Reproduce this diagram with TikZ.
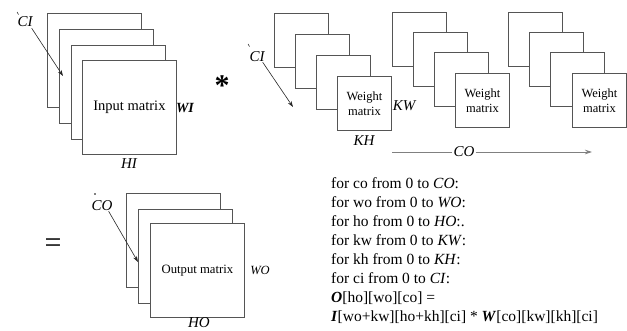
\documentclass[tikz,border=0pt]{standalone}
\usepackage{fontspec}
\setmainfont{Liberation Serif}
\usetikzlibrary{arrows.meta}
\definecolor{edge}{RGB}{85,85,85}
\begin{document}
\begin{tikzpicture}[x=1pt,y=-1pt,
  big/.style={draw=edge, fill=white, line width=0.9pt, minimum width=94pt, minimum height=94pt, inner sep=0pt, anchor=north west},
  small/.style={draw=edge, fill=white, line width=0.9pt, minimum width=54pt, minimum height=54pt, inner sep=0pt, anchor=north west},
  lbl/.style={inner sep=0pt, font=\fontsize{15}{17}\selectfont},
  code/.style={anchor=base west, inner sep=0pt, font=\fontsize{15.5}{19}\selectfont},
  arr/.style={-{Stealth[length=6pt,width=4pt]}, line width=0.6pt, draw=black!85}
]
\useasboundingbox (0,0) rectangle (627,330);
% input stack
\node[big] (i1) at (47,13) {};
\node[big] (i2) at (59,29) {};
\node[big] (i3) at (71,45) {};
\node[big, font=\fontsize{14.5}{17}\selectfont] (i4) at (82,60) {Input matrix};
\node[lbl, font=\fontsize{14}{17}\selectfont\bfseries\itshape] (wi) at (185,108) {WI};
\node[lbl, font=\fontsize{15}{17}\selectfont\itshape] (hi) at (129,164) {HI};
\node[lbl, font=\fontsize{15}{17}\selectfont\itshape] (ci1) at (25,22) {CI};
\draw[line width=0.5pt] (17,12) -- (18.5,14.5);
\coordinate (ci1t) at (63,76);
\draw[arr] (ci1.south east) ++(-1,1) -- (ci1t);
% star
\node[lbl, font=\fontsize{30}{30}\selectfont\bfseries] (star) at (222,86) {*};
% weight stack 1
\node[small] (a1) at (274,13) {};
\node[small] (a2) at (295,34) {};
\node[small] (a3) at (316,55) {};
\node[small, align=center, font=\fontsize{12.5}{15}\selectfont] (a4) at (337,76) {Weight\\matrix};
\node[lbl, font=\fontsize{15}{17}\selectfont\itshape] (kw) at (404,106) {KW};
\node[lbl, font=\fontsize{15}{17}\selectfont\itshape] (kh) at (364,141) {KH};
\node[lbl, font=\fontsize{15}{17}\selectfont\itshape] (ci2) at (257,57) {CI};
\draw[line width=0.5pt] (248,44) -- (249.5,46.5);
\coordinate (ci2t) at (293,107);
\draw[arr] (ci2.south east) ++(-2,0) -- (ci2t);
% weight stack 2
\node[small] (b1) at (392,12) {};
\node[small] (b2) at (413,32) {};
\node[small] (b3) at (434,52) {};
\node[small, align=center, font=\fontsize{12.5}{15}\selectfont] (b4) at (455,73) {Weight\\matrix};
% weight stack 3
\node[small] (c1) at (508,12) {};
\node[small] (c2) at (529,32) {};
\node[small] (c3) at (550,52) {};
\node[small, align=center, font=\fontsize{12.5}{15}\selectfont] (c4) at (572,73) {Weight\\matrix};
% CO axis
\node[lbl, font=\fontsize{15}{17}\selectfont\itshape, inner xsep=1pt] (coax) at (464,152) {CO};
\coordinate (cos) at (392,152);
\coordinate (coe) at (592,152);
\draw[draw=gray, line width=0.9pt] (cos) -- (coax.west);
\draw[draw=gray, line width=0.9pt, -{Stealth[length=7pt,width=4.5pt,fill=black]}] (coax.east) -- (coe);
% equals
\node[lbl, font=\fontsize{30}{30}\selectfont] (eq) at (53,246) {=};
% output stack
\node[big] (o1) at (126,193) {};
\node[big] (o2) at (138,209) {};
\node[big, font=\fontsize{12.7}{15}\selectfont] (o3) at (150,223) {Output matrix};
\node[lbl, font=\fontsize{12.5}{15}\selectfont\itshape] (wo) at (260,270) {WO};
\node[lbl, font=\fontsize{15}{17}\selectfont\itshape] (ho) at (199,323) {HO};
\node[lbl, font=\fontsize{15}{17}\selectfont\itshape] (co) at (102,206) {CO};
\fill (95,194) circle (0.8pt);
\coordinate (cot) at (138,262);
\draw[arr] (co.south east) ++(-4,0) -- (cot);
% code
\node[code] (l1) at (331,188) {for co from 0 to \textit{CO}:};
\node[code] (l2) at (331,207) {for wo from 0 to \textit{WO}:};
\node[code] (l3) at (331,226) {for ho from 0 to \textit{HO}:.};
\node[code] (l4) at (331,245) {for kw from 0 to \textit{KW}:};
\node[code] (l5) at (331,264) {for kh from 0 to \textit{KH}:};
\node[code] (l6) at (331,283) {for ci from 0 to \textit{CI}:};
\node[code] (l7) at (331,302) {\textbf{\textit{O}}[ho][wo][co] =};
\node[code] (l8) at (331,321) {\textbf{\textit{I}}[wo+kw][ho+kh][ci] * \textbf{\textit{W}}[co][kw][kh][ci]};
\end{tikzpicture}
\end{document}
